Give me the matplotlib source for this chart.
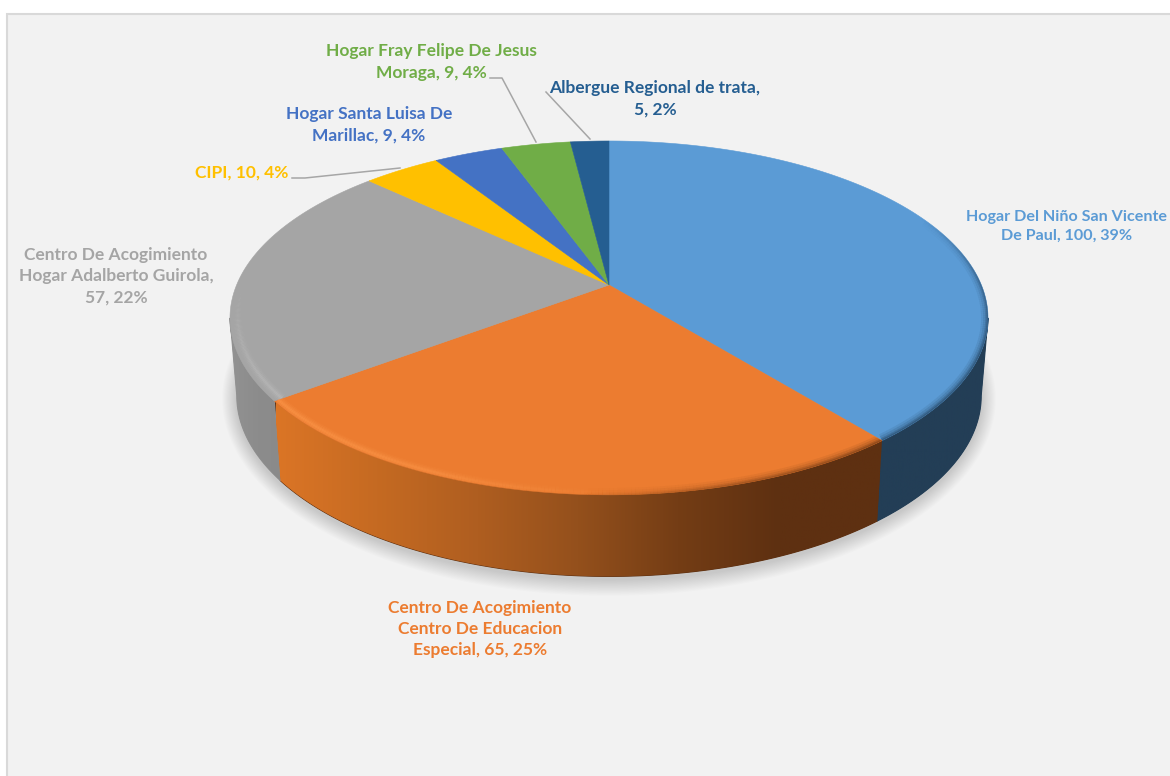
import numpy as np
import matplotlib
matplotlib.use("Agg")
import matplotlib.pyplot as plt
from matplotlib.collections import LineCollection
from matplotlib.colors import to_rgb, LinearSegmentedColormap
from matplotlib.patches import Polygon, Rectangle

plt.rcParams['font.family'] = ['Lato', 'DejaVu Sans']

# Datos
valores = [100, 65, 57, 10, 9, 9, 5]
etiquetas = [
    "Hogar Del Niño San Vicente\nDe Paul, 100, 39%",
    "Centro De Acogimiento\nCentro De Educacion\nEspecial, 65, 25%",
    "Centro De Acogimiento\nHogar Adalberto Guirola,\n57, 22%",
    "CIPI, 10, 4%",
    "Hogar Santa Luisa De\nMarillac, 9, 4%",
    "Hogar Fray Felipe De Jesus\nMoraga, 9, 4%",
    "Albergue Regional de trata,\n5, 2%",
]
colores = ['#5B9BD5', '#EC7C30', '#A5A5A5', '#FFC000', '#4472C4', '#70AD47', '#255E91']
tam_letra = [11.6, 12.5, 12.5, 12.5, 12.5, 12.5, 12.5]

# Posicion de los textos y lineas guia (pixeles)
pos_etiquetas = [(1067, 226), (480, 629), (116, 276), (242, 173), (369, 125), (431, 62), (655, 99)]
guias = [
    ([292, 305, 400], [178, 178, 168]),
    ([490, 502, 536], [78, 78, 142]),
    ([546, 590], [92, 139]),
]

fig = plt.figure(figsize=(11.7, 7.76), dpi=100, facecolor='white')
ax = fig.add_axes([0, 0, 1, 1])
ax.set_xlim(0, 1170)
ax.set_ylim(776, 0)
ax.axis('off')

ax.add_patch(Rectangle((6.5, 13.5), 1400, 1000, facecolor='#F2F2F2', edgecolor='#D9D9D9', lw=1.5, zorder=0))

# Perspectiva del disco
cx, apex_y = 609, 285
a, b, c = 372.4, 170.8, 0.186


def borde(t, k=1.0):
    # t en radianes, horario desde arriba
    u = k * np.sin(t)
    v = k * np.cos(t)
    return cx + a * u / (1 + c * v), apex_y - b * v / (1 + c * v)


def borde_inf(t):
    x, y = borde(t)
    return cx + (x - cx) * 0.982, 396 + (y - 318) * 1.02


angulos = np.concatenate([[0], np.cumsum(valores)]) / sum(valores) * 2 * np.pi
arcos = [np.linspace(angulos[i], angulos[i + 1], 200) for i in range(len(valores))]

# Sombra bajo el disco
t_todo = np.linspace(0, 2 * np.pi, 400)
xs, ys = borde_inf(t_todo)
for i in range(14):
    e = 1 + (14 - i) * 0.0028
    xsom = cx + (xs - cx) * e
    ysom = 396 + (ys - 396) * (1 + (14 - i) * 0.0065) + 3
    ax.fill(xsom, ysom, color='#000000', alpha=0.012, lw=0, zorder=1)

# Paredes laterales con degradado, solo la parte delantera
t_lat = np.arccos(-c)
arcos_lado = {
    0: np.linspace(t_lat, angulos[1], 200),
    1: arcos[1],
    2: np.linspace(angulos[2], 2 * np.pi - t_lat, 200),
}
gradientes = {
    0: ['#233E56', '#233E56'],
    1: ['#DB7526', '#C56A22', '#AF5E20', '#94501C', '#743D15', '#5E3011', '#5E3011'],
    2: ['#929292', '#8C8C8C', '#8A8A8A'],
}
tramos = {0: (870, 995), 1: (276, 880), 2: (230, 285)}
for i in gradientes:
    x1, y1 = borde(arcos_lado[i])
    x2, y2 = borde_inf(arcos_lado[i])
    pts = np.column_stack([np.r_[x1, x2[::-1]], np.r_[y1, y2[::-1]]])
    fondo = gradientes[i][-1 if i == 1 else 0]
    ax.add_patch(Polygon(pts, facecolor=fondo, edgecolor=fondo, lw=0.8, zorder=1.5))
    lado = Polygon(pts, facecolor='none', lw=0)
    ax.add_patch(lado)
    mapa = LinearSegmentedColormap.from_list('lado', gradientes[i])
    x0, x3 = tramos[i]
    im = ax.imshow(np.linspace(0, 1, 256)[None, :], cmap=mapa, aspect='auto',
                   extent=(x0, x3, 600, 300), zorder=2)
    im.set_clip_path(lado)
ax.set_xlim(0, 1170)
ax.set_ylim(776, 0)

# Cara superior
tapas = []
for i, color in enumerate(colores):
    x, y = borde(arcos[i])
    pts = np.column_stack([np.r_[cx, x], np.r_[apex_y, y]])
    tapa = Polygon(pts, closed=True, facecolor=color, edgecolor=color, lw=0.4, zorder=3)
    ax.add_patch(tapa)
    tapas.append(tapa)


def brillo(i, k, color, grados, alfas, capas):
    t = arcos[i]
    x, y = borde(t, k)
    pts = np.column_stack([x, y]).reshape(-1, 1, 2)
    segs = np.concatenate([pts[:-1], pts[1:]], axis=1)
    al = np.interp(np.degrees(t[:-1]), grados, alfas)
    r, g, bl = to_rgb(color)
    for lw, f in capas:
        rgba = np.column_stack([np.full(len(al), r), np.full(len(al), g), np.full(len(al), bl), al * f])
        lc = LineCollection(segs, colors=rgba, linewidths=lw, capstyle='butt', zorder=4)
        ax.add_collection(lc)
        lc.set_clip_path(tapas[i])


# Biseles del borde
oscuro = [(10, 0.1), (7, 0.15), (4, 0.25), (2, 0.35)]
claro = [(7, 0.12), (5, 0.18), (3, 0.25), (1.5, 0.3)]
brillo(0, 1.0, '#1F3B55', [65, 88, 110, 142], [0, 0.7, 1, 1], oscuro)
brillo(1, 1.0, '#5E3011', [142, 165, 183], [1, 0.6, 0], oscuro)
brillo(1, 0.99, '#FF9A4D', [176, 205, 233], [0, 0.8, 1], claro)
brillo(2, 0.98, '#C8C8C8', [233, 250, 272], [0.7, 0.4, 0], claro)

# Lineas guia
for gx, gy in guias:
    ax.plot(gx, gy, color='#A6A6A6', lw=1.1, zorder=5)

# Etiquetas
for i, texto in enumerate(etiquetas):
    ax.text(pos_etiquetas[i][0], pos_etiquetas[i][1], texto, color=colores[i], fontsize=tam_letra[i],
            fontweight='bold', ha='center', va='center', linespacing=1.42, zorder=6)

plt.savefig('out.png', dpi=100)
